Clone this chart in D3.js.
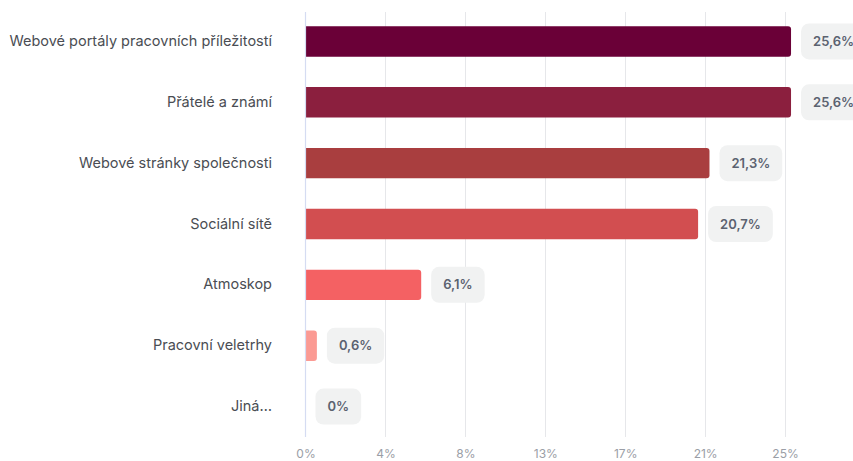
<!DOCTYPE html>
<html>
<head>
<meta charset="utf-8">
<script src="https://cdn.jsdelivr.net/npm/d3@7"></script>
<style>
  html, body { margin: 0; padding: 0; background: #ffffff; }
  svg { display: block; font-family: Inter, "Noto Sans", sans-serif; }
</style>
</head>
<body>
<svg id="chart" width="853" height="461"></svg>
<script>
// Channels through which respondents found their job (share of answers, %)
const categories = [
  "Webové portály pracovních příležitostí",
  "Přátelé a známí",
  "Webové stránky společnosti",
  "Sociální sítě",
  "Atmoskop",
  "Pracovní veletrhy",
  "Jiná…"
];
const values = [25.6, 25.6, 21.3, 20.7, 6.1, 0.6, 0];
const valueLabels = ["25,6%", "25,6%", "21,3%", "20,7%", "6,1%", "0,6%", "0%"];
const barColors = ["#6a0037", "#8b1f3e", "#a93e3f", "#d24e50", "#f46163", "#fb9a93", "#fdc7c0"];
const tickValues = [0, 4.214, 8.429, 12.643, 16.857, 21.071, 25.286];
const xMax = 29.5;

const svg = d3.select("#chart");
const margin = { top: 11, left: 305.5, bottom: 24 };
const plotRight = 865;
const plotBottom = 437;

const x = d3.scaleLinear().domain([0, xMax]).range([margin.left, plotRight]);
const y = d3.scaleBand().domain(categories).range([margin.top, plotBottom]).paddingInner(0.5).paddingOuter(0.25);

// vertical gridlines
svg.append("g")
  .selectAll("line")
  .data(tickValues.slice(1))
  .join("line")
  .attr("x1", d => Math.round(x(d)) + 0.5)
  .attr("x2", d => Math.round(x(d)) + 0.5)
  .attr("y1", 12)
  .attr("y2", plotBottom)
  .attr("stroke", "#e6e7ea")
  .attr("stroke-width", 1);

// x axis tick labels
const xAxis = d3.axisBottom(x)
  .tickValues(tickValues)
  .tickSize(0)
  .tickPadding(0)
  .tickFormat(d => d3.format(".0f")(d) + "%");
const gx = svg.append("g").attr("transform", `translate(0,${plotBottom + 12})`).call(xAxis);
gx.select(".domain").remove();
gx.selectAll("text")
  .attr("fill", "#9a9ea6")
  .attr("font-size", 12)
  .attr("font-family", "Inter, sans-serif");

// bars: square at the axis, rounded at the end
const r = 3;
function barPath(d, i) {
  const x0 = x(0) + 0.5;
  const x1 = x(values[i]);
  const y0 = y(d);
  const h = y.bandwidth();
  const w = x1 - x0;
  if (w <= 0) return "";
  const rr = Math.min(r, w);
  return `M${x0},${y0}H${x1 - rr}Q${x1},${y0} ${x1},${y0 + rr}V${y0 + h - rr}Q${x1},${y0 + h} ${x1 - rr},${y0 + h}H${x0}Z`;
}
svg.append("g")
  .selectAll("path")
  .data(categories)
  .join("path")
  .attr("d", barPath)
  .attr("fill", (d, i) => barColors[i]);

// zero axis line
svg.append("line")
  .attr("x1", x(0)).attr("x2", x(0))
  .attr("y1", 12).attr("y2", plotBottom)
  .attr("stroke", "#d5dcf2")
  .attr("stroke-width", 1.2);

// category labels
const ay = d3.axisLeft(y).tickSize(0).tickPadding(0);
const gy = svg.append("g").attr("transform", "translate(272,0)").call(ay);
gy.select(".domain").remove();
gy.selectAll("text")
  .attr("fill", "#4a4d53")
  .attr("font-size", 14.5)
  .attr("font-family", "Inter, sans-serif");

// value badges
const badges = svg.append("g")
  .selectAll("g")
  .data(categories)
  .join("g")
  .attr("transform", (d, i) => `translate(${x(values[i]) + 10},${y(d) + y.bandwidth() / 2})`);

badges.append("text")
  .attr("class", "val")
  .attr("x", 12)
  .attr("dy", "0.35em")
  .attr("fill", "#5b6270")
  .attr("font-size", 13)
  .attr("font-weight", 600)
  .attr("font-family", "Inter, sans-serif")
  .text((d, i) => valueLabels[i]);

badges.each(function () {
  const g = d3.select(this);
  const w = g.select("text").node().getComputedTextLength();
  g.insert("rect", "text")
    .attr("x", 0)
    .attr("y", -18)
    .attr("width", w + 24)
    .attr("height", 36)
    .attr("rx", 8)
    .attr("fill", "#f1f2f2");
});
</script>
</body>
</html>
